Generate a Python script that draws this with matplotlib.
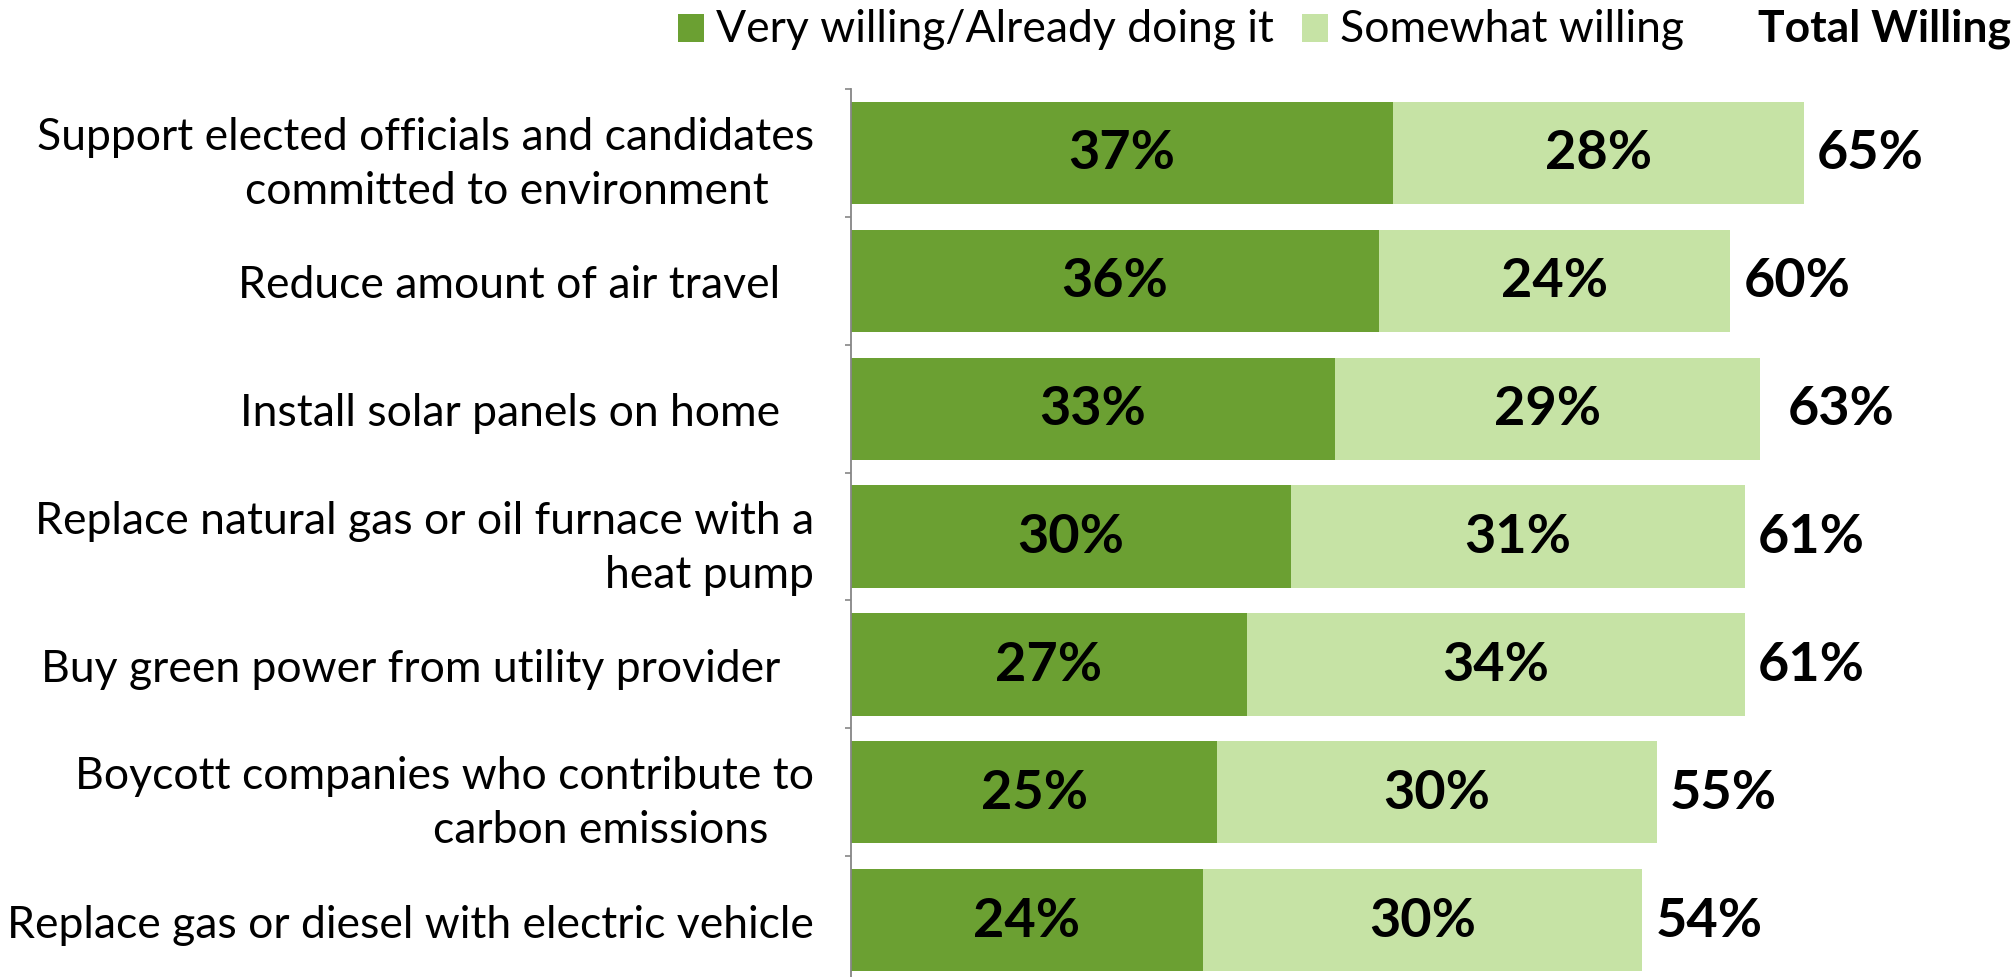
import numpy as np
import matplotlib.pyplot as plt
from matplotlib.patches import Rectangle

# ------------------------------------------------
# Data
# ------------------------------------------------
actions = [
    "Support elected officials and candidates\ncommitted to environment    ",
    "Reduce amount of air travel   ",
    "Install solar panels on home   ",
    "Replace natural gas or oil furnace with a\nheat pump",
    "Buy green power from utility provider   ",
    "Boycott companies who contribute to\ncarbon emissions    ",
    "Replace gas or diesel with electric vehicle",
]
very_willing = [37, 36, 33, 30, 27, 25, 24]
somewhat_willing = [28, 24, 29, 31, 34, 30, 30]
total_willing = [65, 60, 63, 61, 61, 55, 54]

series_names = ["Very willing/Already doing it", "Somewhat willing"]
total_header = "Total Willing"

DARK = "#6BA032"
LIGHT = "#C6E3A5"
AXIS_GREY = "#868686"

plt.rcParams["font.family"] = ["Lato", "DejaVu Sans"]

LABEL_SIZE = 32
VALUE_SIZE = 39

# ------------------------------------------------
# Figure and axes
# ------------------------------------------------
W, H = 2016, 978
fig = plt.figure(figsize=(W / 100, H / 100), dpi=100)
ax = fig.add_axes([851 / W, 1 - 985 / H, (W - 851) / W, 895 / H])

y = np.arange(len(actions))
ax.barh(y, very_willing, height=0.8, color=DARK, edgecolor="none")
ax.barh(y, somewhat_willing, left=very_willing, height=0.8,
        color=LIGHT, edgecolor="none")

ax.set_xlim(0, 79.5)
ax.set_ylim(len(actions) - 0.5, -0.5)

# value labels inside the bars and totals to the right
for i in range(len(actions)):
    ax.text(very_willing[i] / 2, y[i], f"{very_willing[i]}%",
            ha="center", va="center", fontsize=VALUE_SIZE, fontweight="bold")
    ax.text(very_willing[i] + somewhat_willing[i] / 2, y[i],
            f"{somewhat_willing[i]}%",
            ha="center", va="center", fontsize=VALUE_SIZE, fontweight="bold")
    ax.text(total_willing[i] + 0.9, y[i], f"{total_willing[i]}%",
            ha="left", va="center", fontsize=VALUE_SIZE, fontweight="bold")

# category axis: labels at centres, small ticks between categories
ax.set_yticks(y)
ax.set_yticklabels(actions, fontsize=LABEL_SIZE, multialignment="right",
                   linespacing=1.4)
ax.tick_params(axis="y", which="major", length=0, pad=26.5)
ax.set_yticks(np.arange(-0.5, len(actions), 1.0), minor=True)
ax.tick_params(axis="y", which="minor", length=4, width=1.2,
               color=AXIS_GREY, direction="out")
ax.set_xticks([])

for side in ["top", "right", "bottom"]:
    ax.spines[side].set_visible(False)
ax.spines["left"].set_color(AXIS_GREY)
ax.spines["left"].set_linewidth(1.3)

# ------------------------------------------------
# Legend row across the top
# ------------------------------------------------
leg_y = 1 - 29 / H
sq_w, sq_h = 26 / W, 28 / H
for x0, color, name in [(678, DARK, series_names[0]),
                        (1302, LIGHT, series_names[1])]:
    fig.add_artist(Rectangle((x0 / W, leg_y - sq_h / 2), sq_w, sq_h,
                             transform=fig.transFigure, color=color,
                             linewidth=0))
    fig.text((x0 + 38) / W, leg_y, name, ha="left", va="center",
             fontsize=LABEL_SIZE)
fig.text(2011 / W, leg_y, total_header, ha="right", va="center",
         fontsize=LABEL_SIZE, fontweight="bold")

fig.savefig("out.png", dpi=100)
